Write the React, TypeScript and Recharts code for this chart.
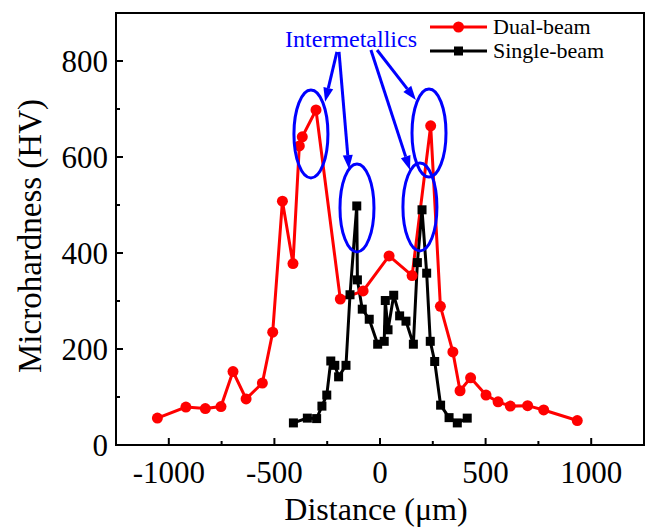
import React from 'react';
import { LineChart, Line, XAxis, YAxis, ReferenceArea, ReferenceDot, ReferenceLine } from 'recharts';

const FONT = '"Liberation Serif", "Times New Roman", serif';

// Dual-beam series
const dualX = [-1054, -919, -827, -753, -696, -634, -557, -508, -462, -412, -382, -368, -303, -188, -80, 43, 152, 240, 286, 345, 379, 429, 502, 559, 617, 699, 775, 934];
const dualY = [56, 79, 76, 80, 153, 96, 129, 235, 508, 378, 623, 642, 698, 304, 321, 394, 353, 665, 289, 194, 113, 140, 104, 90, 81, 82, 73, 51];

// Single-beam series
const singleX = [-410, -344, -300, -275, -252, -233, -214, -196, -161, -142, -110, -107, -84, -51, -11, 20, 25, 38, 65, 93, 123, 158, 177, 199, 221, 238, 259, 287, 327, 366, 413];
const singleY = [46, 56, 55, 81, 104, 175, 166, 142, 166, 313, 498, 344, 283, 262, 210, 216, 301, 240, 312, 269, 258, 210, 380, 490, 358, 216, 174, 83, 57, 46, 56];

const seriesNames = ['Dual-beam', 'Single-beam'];

const xMajor = [-1000, -500, 0, 500, 1000];
const xMinor = [-750, -250, 250, 750];
const yMajor = [0, 200, 400, 600, 800];
const yMinor = [100, 300, 500, 700];
const xDomain = [-1250, 1250];
const yDomain = [0, 900];

// annotation anchors (data units)
const ellipseCenters = [
  { x: -327, y: 648 },
  { x: -109, y: 494 },
  { x: 189, y: 496 },
  { x: 232, y: 650 },
];
const arrows = [
  { from: { x: -204, y: 819 }, to: { x: -260, y: 715 } },
  { from: { x: -194, y: 819 }, to: { x: -147, y: 575 } },
  { from: { x: -43, y: 823 }, to: { x: 142, y: 573 } },
  { from: { x: -14, y: 823 }, to: { x: 170, y: 719 } },
];
const annotationText = 'Intermetallics';
const annotationPos = { x: -137, y: 829 };

const dualData = dualX.map((x, i) => ({ x, y: dualY[i] }));
const singleData = singleX.map((x, i) => ({ x, y: singleY[i] }));

const XTick = (props: any) => {
  const { x, y, payload } = props;
  const v = payload.value;
  const major = xMajor.includes(v);
  return (
    <g>
      <line x1={x} x2={x} y1={y} y2={y - (major ? 7 : 4)} stroke="#000" strokeWidth={2} />
      {major && (
        <text x={x} y={y + 38} textAnchor="middle" fontSize={31} fontFamily={FONT} fill="#000">
          {v}
        </text>
      )}
    </g>
  );
};

const YTick = (props: any) => {
  const { x, y, payload } = props;
  const v = payload.value;
  const major = yMajor.includes(v);
  return (
    <g>
      <line x1={x} x2={x + (major ? 7 : 4)} y1={y} y2={y} stroke="#000" strokeWidth={2} />
      {major && (
        <text x={x - 8} y={y + 11} textAnchor="end" fontSize={31} fontFamily={FONT} fill="#000">
          {v}
        </text>
      )}
    </g>
  );
};

const SquareDot = (props: any) => {
  const { cx, cy, index } = props;
  if (cx == null || cy == null) return <g key={index} />;
  return <rect key={index} x={cx - 4.5} y={cy - 4.5} width={9} height={9} fill="#000" />;
};

const CircleDot = (props: any) => {
  const { cx, cy, index } = props;
  if (cx == null || cy == null) return <g key={index} />;
  return <circle key={index} cx={cx} cy={cy} r={5.5} fill="#ff0000" />;
};

const EllipseShape = (props: any) => (
  <ellipse cx={props.cx} cy={props.cy} rx={17} ry={44} fill="none" stroke="#0000ff" strokeWidth={3} />
);

const ArrowShape = (props: any) => {
  const { x1, y1, x2, y2 } = props;
  const dx = x2 - x1;
  const dy = y2 - y1;
  const len = Math.sqrt(dx * dx + dy * dy);
  const ux = dx / len;
  const uy = dy / len;
  const hl = 14;
  const hw = 5;
  const bx = x2 - ux * hl;
  const by = y2 - uy * hl;
  const p1 = `${bx - uy * hw},${by + ux * hw}`;
  const p2 = `${bx + uy * hw},${by - ux * hw}`;
  return (
    <g>
      <line x1={x1} y1={y1} x2={bx} y2={by} stroke="#0000ff" strokeWidth={3} />
      <polygon points={`${x2},${y2} ${p1} ${p2}`} fill="#0000ff" />
    </g>
  );
};

const TextShape = (props: any) => (
  <text x={props.cx} y={props.cy} textAnchor="middle" fontSize={24} fontFamily={FONT} fill="#0000ff">
    {annotationText}
  </text>
);

export default function App() {
  return (
    <div style={{ position: 'absolute', left: 0, top: 0, width: 648, height: 528, fontFamily: FONT, background: '#fff' }}>
      <LineChart width={648} height={528} margin={{ top: 13, right: 4, bottom: 0, left: 0 }}>
        <XAxis
          type="number"
          dataKey="x"
          domain={xDomain}
          ticks={[...xMajor, ...xMinor].sort((a, b) => a - b)}
          tick={XTick}
          tickSize={0}
          tickMargin={0}
          tickLine={false}
          axisLine={false}
          height={83}
          interval={0}
          allowDataOverflow
        />
        <YAxis
          type="number"
          dataKey="y"
          domain={yDomain}
          ticks={[...yMajor, ...yMinor].sort((a, b) => a - b)}
          tick={YTick}
          tickSize={0}
          tickMargin={0}
          tickLine={false}
          axisLine={false}
          width={116}
          interval={0}
          allowDataOverflow
        />
        <ReferenceArea
          x1={xDomain[0]}
          x2={xDomain[1]}
          y1={yDomain[0]}
          y2={yDomain[1]}
          fill="none"
          fillOpacity={0}
          stroke="#000"
          strokeWidth={2}
          ifOverflow="visible"
        />
        <Line
          data={dualData}
          dataKey="y"
          name={seriesNames[0]}
          stroke="#ff0000"
          strokeWidth={3}
          dot={CircleDot}
          activeDot={false}
          isAnimationActive={false}
        />
        <Line
          data={singleData}
          dataKey="y"
          name={seriesNames[1]}
          stroke="#000"
          strokeWidth={3}
          dot={SquareDot}
          activeDot={false}
          isAnimationActive={false}
        />
        {ellipseCenters.map((c, i) => (
          <ReferenceDot key={'e' + i} x={c.x} y={c.y} r={1} shape={EllipseShape} ifOverflow="visible" />
        ))}
        {arrows.map((a, i) => (
          <ReferenceLine key={'a' + i} segment={[a.from, a.to]} shape={ArrowShape} ifOverflow="visible" />
        ))}
        <ReferenceDot x={annotationPos.x} y={annotationPos.y} r={1} shape={TextShape} ifOverflow="visible" />
      </LineChart>
      <svg style={{ position: 'absolute', left: 428, top: 14 }} width={215} height={52}>
        {seriesNames.map((name, i) => {
          const cy = 13 + i * 24;
          const color = i === 0 ? '#ff0000' : '#000';
          return (
            <g key={name}>
              <line x1={2} x2={59} y1={cy} y2={cy} stroke={color} strokeWidth={3} />
              {i === 0 ? (
                <circle cx={30.5} cy={cy} r={5.5} fill={color} />
              ) : (
                <rect x={26} y={cy - 4.5} width={9} height={9} fill={color} />
              )}
              <text x={65} y={cy + 7} fontSize={22} fontFamily={FONT} fill="#000">
                {name}
              </text>
            </g>
          );
        })}
      </svg>
      <div
        style={{
          position: 'absolute',
          left: 116,
          width: 520,
          top: 493,
          height: 32,
          lineHeight: '32px',
          fontSize: 32,
          textAlign: 'center',
          whiteSpace: 'nowrap',
          color: '#000',
        }}
      >
        Distance (μm)
      </div>
      <div
        style={{
          position: 'absolute',
          left: 30 - 216,
          top: 236 - 20,
          width: 432,
          height: 40,
          lineHeight: '40px',
          fontSize: 33,
          textAlign: 'center',
          whiteSpace: 'nowrap',
          transform: 'rotate(-90deg)',
          color: '#000',
        }}
      >
        Microhardness (HV)
      </div>
    </div>
  );
}
